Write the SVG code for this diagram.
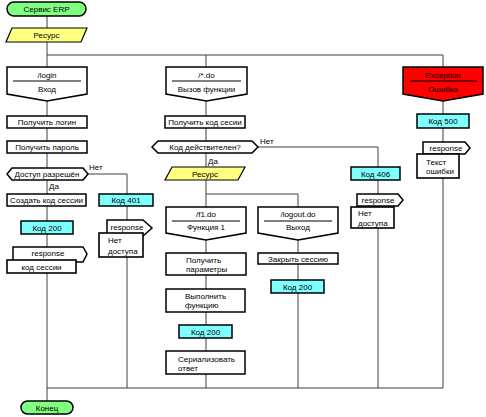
<svg xmlns="http://www.w3.org/2000/svg" width="486" height="417" viewBox="0 0 486 417">
<style>
text{font-family:"Liberation Sans",Arial,sans-serif;font-size:8px;fill:#000}
.c{text-anchor:middle}
.ln{stroke:#404040;stroke-width:1;fill:none}
.b{stroke:#000;stroke-width:1.5;fill:#fff}
.doc{stroke:#000;stroke-width:1.6;fill:#fff}
.term{stroke:#000;stroke-width:1.5;fill:#80ff80}
.yel{stroke:#000;stroke-width:1.2;fill:#ffff80}
.cy{stroke:#000;stroke-width:1.5;fill:#80ffff}
.red{stroke:#000;stroke-width:1.5;fill:#ff0000}
.dv{stroke:#000;stroke-width:1}
</style>
<rect width="486" height="417" fill="#fff"/>
<g id="connectors">
<line class="ln" x1="47" y1="16" x2="47" y2="401"/>
<line class="ln" x1="47" y1="55" x2="443" y2="55"/>
<line class="ln" x1="206" y1="55" x2="206" y2="388"/>
<line class="ln" x1="443" y1="55" x2="443" y2="388"/>
<polyline class="ln" points="88,174 127,174 127,388"/>
<polyline class="ln" points="258,147 378,147 378,388"/>
<polyline class="ln" points="206,194 298,194 298,388"/>
<line class="ln" x1="47" y1="388" x2="443" y2="388"/>
<text x="89" y="170">Нет</text>
<text x="49" y="189">Да</text>
<text x="260" y="144">Нет</text>
<text x="208" y="164">Да</text>
</g>
<g id="start"><rect class="term" x="7" y="2" width="79" height="14" rx="7"/><text class="c" x="46.5" y="12">Сервис ERP</text></g>
<g id="res1"><polygon class="yel" points="12,28 87,28 81,42 6,42"/><text class="c" x="46.5" y="38">Ресурс</text></g>
<g id="login"><polygon class="b" points="7,67 87,67 87,94 47,101 7,94"/><line class="dv" x1="13" y1="81" x2="81" y2="81"/><text class="c" x="47" y="78">/login</text><text class="c" x="47" y="92">Вход</text></g>
<g id="do"><polygon class="b" points="166,67 247,67 247,94 206.5,101 166,94"/><line class="dv" x1="172" y1="81" x2="241" y2="81"/><text class="c" x="206.5" y="78">/*.do</text><text class="c" x="206.5" y="92">Вызов функции</text></g>
<g id="exc"><polygon class="red" points="403,67 483,67 483,94 443,101 403,94"/><line class="dv" x1="410" y1="81" x2="477" y2="81"/><text class="c" x="443" y="78">Exception</text><text class="c" x="443" y="92">Ошибка</text></g>
<g id="getlogin"><rect class="b" x="7" y="116" width="80" height="12"/><text class="c" x="47" y="125">Получить логин</text></g>
<g id="getpass"><rect class="b" x="7" y="141" width="80" height="12"/><text class="c" x="47" y="150">Получить пароль</text></g>
<g id="access"><polygon class="b" points="7,174 12,168 83,168 88,174 83,180 12,180"/><text class="c" x="47" y="177">Доступ разрешён</text></g>
<g id="mksess"><rect class="b" x="7" y="194" width="79" height="12"/><text class="c" x="46.5" y="203">Создать код сессии</text></g>
<g id="c401"><rect class="cy" x="99" y="194" width="54" height="12"/><text class="c" x="126" y="203">Код 401</text></g>
<g id="c200a"><rect class="cy" x="21" y="221" width="52" height="13"/><text class="c" x="47" y="230.5">Код 200</text></g>
<g id="resp1"><polygon class="b" points="13,247 83,247 87,254 83,262 13,262"/><text class="c" x="48" y="256">response</text><rect class="doc" x="7" y="260" width="69" height="13"/><text class="c" x="41.5" y="270">код сессии</text></g>
<g id="resp2"><polygon class="b" points="107,220 143,220 152,228 143,236 107,236"/><text class="c" x="127" y="230">response</text><rect class="doc" x="99" y="233" width="44" height="24"/><text x="108" y="243">Нет</text><text x="108" y="254">доступа</text></g>
<g id="getcode"><rect class="b" x="165" y="116" width="80" height="12"/><text class="c" x="205" y="125">Получить код сесии</text></g>
<g id="valid"><polygon class="b" points="152,147 158,141 252,141 258,147 252,153 158,153"/><text class="c" x="205" y="150">Код действителен?</text></g>
<g id="res2"><polygon class="yel" points="172,167 245,167 238,180 165,180"/><text class="c" x="205" y="177">Ресурс</text></g>
<g id="f1"><polygon class="b" points="166,207 246,207 246,233 206,240 166,233"/><line class="dv" x1="172" y1="221" x2="240" y2="221"/><text class="c" x="206" y="217">/f1.do</text><text class="c" x="206" y="230">Функция 1</text></g>
<g id="logout"><polygon class="b" points="258,207 338,207 338,233 298,240 258,233"/><line class="dv" x1="264" y1="221" x2="332" y2="221"/><text class="c" x="298" y="217">/logout.do</text><text class="c" x="298" y="230">Выход</text></g>
<g id="params"><rect class="b" x="166" y="253" width="80" height="22"/><text x="186" y="263">Получить</text><text x="186" y="272">параметры</text></g>
<g id="exec"><rect class="b" x="166" y="289" width="79" height="23"/><text x="185" y="299">Выполнить</text><text x="185" y="308">функцию</text></g>
<g id="c200b"><rect class="cy" x="179" y="325" width="53" height="13"/><text class="c" x="205.5" y="334.5">Код 200</text></g>
<g id="ser"><rect class="b" x="166" y="351" width="79" height="23"/><text x="178" y="362">Сериализовать</text><text x="178" y="371">ответ</text></g>
<g id="close"><rect class="b" x="258" y="253" width="80" height="11"/><text class="c" x="298" y="261.5">Закрыть сессию</text></g>
<g id="c200c"><rect class="cy" x="271" y="280" width="53" height="13"/><text class="c" x="297.5" y="289.5">Код 200</text></g>
<g id="c406"><rect class="cy" x="351" y="167" width="49" height="13"/><text class="c" x="375.5" y="176.5">Код 406</text></g>
<g id="resp3"><polygon class="b" points="357,194 398,194 403,200 398,206 357,206"/><text class="c" x="378" y="203">response</text><rect class="doc" x="351" y="207" width="43" height="21"/><text x="358" y="216">Нет</text><text x="358" y="226">доступа</text></g>
<g id="c500"><rect class="cy" x="417" y="114" width="52" height="14"/><text class="c" x="443" y="124">Код 500</text></g>
<g id="resp4"><polygon class="b" points="423,142 465,142 470,148 465,154 423,154"/><text class="c" x="446" y="151">response</text><rect class="doc" x="417" y="154" width="42" height="24"/><text x="426" y="165">Текст</text><text x="426" y="174">ошибки</text></g>
<g id="end"><rect class="term" x="21" y="401" width="52" height="13" rx="6.5"/><text class="c" x="47" y="410.5">Конец</text></g>
</svg>
